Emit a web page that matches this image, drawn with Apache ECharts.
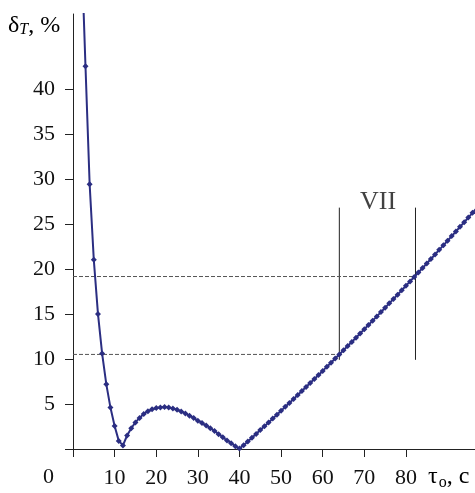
<!DOCTYPE html>
<html><head><meta charset="utf-8">
<script src="https://cdn.jsdelivr.net/npm/echarts@6/dist/echarts.min.js"></script>
<style>html,body{margin:0;padding:0;background:#fff}#c{width:475px;height:493px}</style>
</head><body><div id="c"></div>
<script>
const tauX = [2,3,4,5,6,7,8,9,10,11,12,13,14,15,16,17,18,19,20,21,22,23,24,25,26,27,28,29,30,31,32,33,34,35,36,37,38,39,40,41,42,43,44,45,46,47,48,49,50,51,52,53,54,55,56,57,58,59,60,61,62,63,64,65,66,67,68,69,70,71,72,73,74,75,76,77,78,79,80,81,82,83,84,85,86,87,88,89,90,91,92,93,94,95,96,97];
const deltaT = [56,42.5,29.4,21.0,15.0,10.6,7.2,4.6,2.55,0.9,0.4,1.5,2.3,2.95,3.45,3.9,4.2,4.4,4.55,4.62,4.65,4.6,4.5,4.35,4.15,3.95,3.7,3.45,3.15,2.9,2.6,2.3,2.0,1.65,1.3,0.95,0.65,0.3,0.05,
0.42,0.83,1.25,1.67,2.10,2.52,2.95,3.38,3.81,4.24,4.68,5.11,5.55,5.99,6.43,6.88,7.32,7.77,8.22,8.67,9.13,9.58,10.04,10.50,10.96,11.43,11.89,12.36,12.83,13.30,13.77,14.25,14.72,15.20,15.68,16.17,16.65,17.14,17.63,18.12,18.61,19.10,19.60,20.10,20.60,21.10,21.60,22.11,22.61,23.12,23.64,24.15,24.67,25.18,25.70,26.22,26.75];
const xTicks = [0,10,20,30,40,50,60,70,80];
const xLabels = [10,20,30,40,50,60,70,80];
const yTicks = [0,5,10,15,20,25,30,35,40];
const yLabels = [5,10,15,20,25,30,35,40];
const zoneX = [64, 82.3];          // vertical bounds of zone VII
const zoneYRange = [9.9, 26.8];    // vertical extent of the bound lines
const levelY = [10.5, 19.15];      // dashed level lines
const zoneName = 'VII';
const zoneLabelPos = [73.3, 27.4];

const serif = 'Liberation Serif';
const fs = 22;
const pts = tauX.map((x,i)=>[x, deltaT[i]]);
const series = [
  {type:'line', data:pts, symbol:'diamond', symbolSize:6, showSymbol:true,
   lineStyle:{color:'#2b2e82', width:2}, itemStyle:{color:'#2b2e82'}, clip:true, z:5, silent:true}
];
zoneX.forEach((x,i)=>{
  series.push({type:'line', data:[[x,zoneYRange[0]],[x,zoneYRange[1]]], symbol:'none',
    lineStyle:{color:'#222', width:1}, z:3, silent:true});
  series.push({type:'line', data:[[0,levelY[i]],[x,levelY[i]]], symbol:'none',
    lineStyle:{color:'#555', width:1, type:[4,2]}, z:3, silent:true});
});
series.push({type:'scatter', data:[zoneLabelPos], symbolSize:0,
  label:{show:true, formatter:zoneName, position:'inside', fontFamily:serif, fontSize:26, color:'#111'}, silent:true});

const chart = echarts.init(document.getElementById('c'), null, {renderer:'canvas'});
chart.setOption({
  animation:false,
  grid:{left:73, right:0, top:14, bottom:44, containLabel:false, outerBoundsMode:'none'},
  xAxis:{type:'value', min:0, max:96.6, interval:10,
    axisLine:{show:true, lineStyle:{color:'#222', width:1}},
    axisTick:{show:true, length:8, lineStyle:{color:'#222'}, customValues:xTicks},
    axisLabel:{show:true, margin:18, fontFamily:serif, fontSize:fs, color:'#111', customValues:xLabels},
    splitLine:{show:false}},
  yAxis:{type:'value', min:0, max:48.3, interval:5,
    axisLine:{show:true, lineStyle:{color:'#222', width:1}},
    axisTick:{show:true, length:8, lineStyle:{color:'#222'}, customValues:yTicks},
    axisLabel:{show:true, margin:18, fontFamily:serif, fontSize:fs, color:'#111', customValues:yLabels},
    splitLine:{show:false}},
  graphic:[
    {type:'text', left:43, top:466, style:{text:'0', fontFamily:serif, fontSize:fs, fill:'#111'}},
    {type:'text', left:428, top:465, style:{text:'{a|τ}{s|o}{a|, c}', rich:{a:{fontFamily:serif, fontSize:24, color:'#111'}, s:{fontFamily:serif, fontSize:16, color:'#111', padding:[11,0,0,1]}}}},
    {type:'text', left:8, top:14, style:{text:'{a|δ}{s|T}{a|, %}', rich:{a:{fontFamily:serif, fontSize:24, color:'#111'}, s:{fontFamily:serif, fontStyle:'italic', fontSize:16, color:'#111', padding:[8,0,0,0]}}}}
  ],
  series
});
</script></body></html>
